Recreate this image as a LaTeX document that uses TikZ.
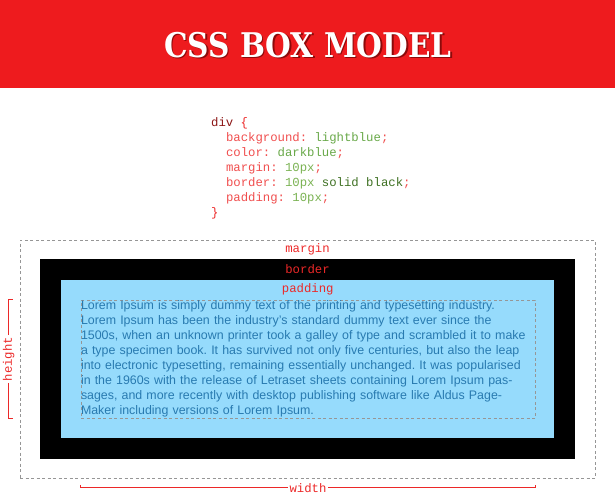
\documentclass[tikz,border=0pt]{standalone}
\usepackage{fontspec}
\setmainfont{Liberation Sans}
\setmonofont{Liberation Mono}
\newfontfamily\titlefont{DejaVu Serif}
\usetikzlibrary{positioning, calc}
\definecolor{bannerred}{RGB}{238, 27, 30}
\definecolor{shadowred}{RGB}{140, 10, 10}
\definecolor{labelred}{RGB}{236, 40, 40}
\definecolor{selred}{RGB}{140, 22, 22}
\definecolor{propred}{RGB}{240, 78, 78}
\definecolor{valgreen}{RGB}{104, 168, 72}
\definecolor{numgreen}{RGB}{122, 178, 82}
\definecolor{wordgreen}{RGB}{62, 112, 34}
\definecolor{guidegray}{RGB}{150, 150, 150}
\definecolor{padblue}{RGB}{150, 219, 252}
\definecolor{loremblue}{RGB}{40, 122, 176}
\newcommand{\cprop}[1]{\textcolor{propred}{#1}}
\newcommand{\cval}[1]{\textcolor{valgreen}{#1}}
\newcommand{\cnum}[1]{\textcolor{numgreen}{#1}}
\newcommand{\cword}[1]{\textcolor{wordgreen}{#1}}
\newcommand{\cindent}{\hspace*{14.8pt}}

\begin{document}
\frenchspacing
\begin{tikzpicture}[x=1pt, y=-1pt, every node/.style={inner sep=0pt},
  codeline/.style={anchor=base west, font=\ttfamily\fontsize{12.3}{15}\selectfont},
  boxlabel/.style={font=\ttfamily\fontsize{12.3}{14}\selectfont, text=labelred},
  dimline/.style={draw=labelred, line width=0.9pt},
  guide/.style={draw=guidegray, dash pattern=on 3pt off 2.5pt, line width=0.8pt}]
\useasboundingbox (0,0) rectangle (615,500);
% Banner
\fill[bannerred] (0,0) rectangle (615,88);
\node[text=shadowred, font=\titlefont\bfseries\fontsize{34}{34}\selectfont] (titleshadow) at (309.3,46.3) {\scalebox{0.87}[1]{CSS BOX MODEL}};
\node[text=white, font=\titlefont\bfseries\fontsize{34}{34}\selectfont] (title) at (308,45) {\scalebox{0.87}[1]{CSS BOX MODEL}};
% Code
\node[codeline] (code1) at (211,126) {\textcolor{selred}{div} \textcolor{labelred}{\{}};
\node[codeline] (code2) at (211,141) {\cindent\cprop{background:} \cval{lightblue}\cprop{;}};
\node[codeline] (code3) at (211,156) {\cindent\cprop{color:} \cval{darkblue}\cprop{;}};
\node[codeline] (code4) at (211,171) {\cindent\cprop{margin:} \cnum{10px}\cprop{;}};
\node[codeline] (code5) at (211,186) {\cindent\cprop{border:} \cnum{10px} \cword{solid black}\cprop{;}};
\node[codeline] (code6) at (211,201) {\cindent\cprop{padding:} \cnum{10px}\cprop{;}};
\node[codeline] (code7) at (211,216) {\textcolor{labelred}{\}}};
% Box model
\node[guide, minimum width=575pt, minimum height=238pt] (marginbox) at (307.5,359) {};
\node[fill=black, minimum width=535pt, minimum height=200pt] (borderbox) at (307.5,359) {};
\node[fill=padblue, minimum width=493pt, minimum height=158pt] (paddingbox) at (307.5,359) {};
\node[guide, text=loremblue, text width=454pt, minimum height=118pt, align=left,
  font=\fontsize{12.4}{15}\selectfont] (content) at (308,359) {Lorem Ipsum is simply dummy text of the printing and typesetting industry.\\
Lorem Ipsum has been the industry's standard dummy text ever since the\\
1500s, when an unknown printer took a galley of type and scrambled it to make\\
a type specimen book. It has survived not only five centuries, but also the leap\\
into electronic typesetting, remaining essentially unchanged. It was popularised\\
in the 1960s with the release of Letraset sheets containing Lorem Ipsum pas-\\
sages, and more recently with desktop publishing software like Aldus Page-\\
Maker including versions of Lorem Ipsum.};
\node[boxlabel] (marginlbl) at ($(marginbox.north)!.5!(borderbox.north)$) {margin};
\node[boxlabel] (borderlbl) at ($(borderbox.north)!.5!(paddingbox.north)$) {border};
\node[boxlabel] (paddinglbl) at ($(paddingbox.north)!.5!(content.north)$) {padding};
% Dimensions
\node[boxlabel, rotate=90, inner sep=1.5pt] (hlabel) at ([xshift=-72pt]content.west) {height};
\node[boxlabel, inner sep=1.5pt] (wlabel) at ([yshift=-69.5pt]content.south) {width};
\coordinate (htop) at (hlabel |- content.north);
\coordinate (hbot) at (hlabel |- content.south);
\coordinate (wleft) at (content.west |- wlabel);
\coordinate (wright) at (content.east |- wlabel);
\draw[dimline] ([xshift=4pt]htop) -- (htop) -- (hlabel.east);
\draw[dimline] (hlabel.west) -- (hbot) -- ([xshift=4pt]hbot);
\draw[dimline] ([yshift=3pt]wleft) -- (wleft) -- (wlabel.west);
\draw[dimline] (wlabel.east) -- (wright) -- ([yshift=3pt]wright);
\end{tikzpicture}
\end{document}
